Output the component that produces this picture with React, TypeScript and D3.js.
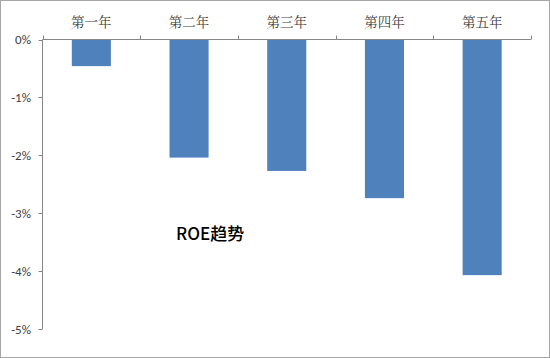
import React, { useEffect, useRef } from "react";
import * as d3 from "d3";

const categories = ["第一年", "第二年", "第三年", "第四年", "第五年"];
const roeValues = [-0.46, -2.04, -2.27, -2.74, -4.07];
const yTicks = [0, -1, -2, -3, -4, -5];
const chartTitle = "ROE趋势";

const W = 550;
const H = 358;

export default function App() {
  const ref = useRef<SVGSVGElement | null>(null);

  useEffect(() => {
    const svg = d3.select(ref.current);
    svg.selectAll("*").remove();

    const left = 42.5;
    const right = 531;
    const top = 39.5;
    const bottom = 329;

    const xOuter = d3.scaleBand<string>().domain(categories).range([left, right]).padding(0);
    const y = d3.scaleLinear().domain([0, -5]).range([top, bottom]);

    svg.append("rect").attr("x", 0.5).attr("y", 0.5).attr("width", W - 1).attr("height", H - 1)
      .attr("fill", "#fff").attr("stroke", "#a6a6a6").attr("stroke-width", 1);

    svg.append("g").selectAll("rect").data(roeValues).join("rect")
      .attr("x", (_, i) => xOuter(categories[i])! + xOuter.bandwidth() * 0.3)
      .attr("width", xOuter.bandwidth() * 0.4)
      .attr("y", y(0))
      .attr("height", (d) => y(d) - y(0))
      .attr("fill", "#4f81bd");

    const axisColor = "#868686";
    svg.append("line").attr("x1", left).attr("x2", left).attr("y1", top).attr("y2", bottom)
      .attr("stroke", axisColor).attr("stroke-width", 1);
    const yg = svg.append("g");
    yTicks.forEach((t) => {
      yg.append("line").attr("x1", left - 4).attr("x2", left).attr("y1", Math.round(y(t)) + 0.5).attr("y2", Math.round(y(t)) + 0.5)
        .attr("stroke", axisColor);
      yg.append("text").attr("x", 31).attr("y", y(t)).attr("dy", "0.35em").attr("text-anchor", "end")
        .attr("font-family", "Carlito, 'Open Sans', 'Liberation Sans', sans-serif").attr("font-size", 13).attr("fill", "#404040")
        .text(`${t}%`);
    });

    svg.append("line").attr("x1", left).attr("x2", right).attr("y1", top).attr("y2", top)
      .attr("stroke", axisColor).attr("stroke-width", 1);
    const bounds = categories.map((c) => xOuter(c)!).concat([right]);
    bounds.forEach((bx) => {
      svg.append("line").attr("x1", Math.round(bx) + 0.5).attr("x2", Math.round(bx) + 0.5).attr("y1", top - 4).attr("y2", top)
        .attr("stroke", axisColor);
    });
    svg.append("g").selectAll("text").data(categories).join("text")
      .attr("x", (c) => xOuter(c)! + xOuter.bandwidth() / 2)
      .attr("y", 22).attr("dy", "0.35em").attr("text-anchor", "middle")
      .attr("font-family", "'Noto Serif CJK SC', 'Noto Sans CJK SC', serif").attr("font-size", 13.5).attr("fill", "#404040")
      .text((c) => c);

    svg.append("text").attr("x", 176).attr("y", 234).attr("dy", "0.35em")
      .attr("font-family", "'Noto Sans CJK SC', sans-serif").attr("font-size", 17).attr("font-weight", 500).attr("fill", "#000")
      .text(chartTitle);
  }, []);

  return (
    <svg ref={ref} width={W} height={H} style={{ position: "absolute", left: 0, top: 0, display: "block" }} />
  );
}
